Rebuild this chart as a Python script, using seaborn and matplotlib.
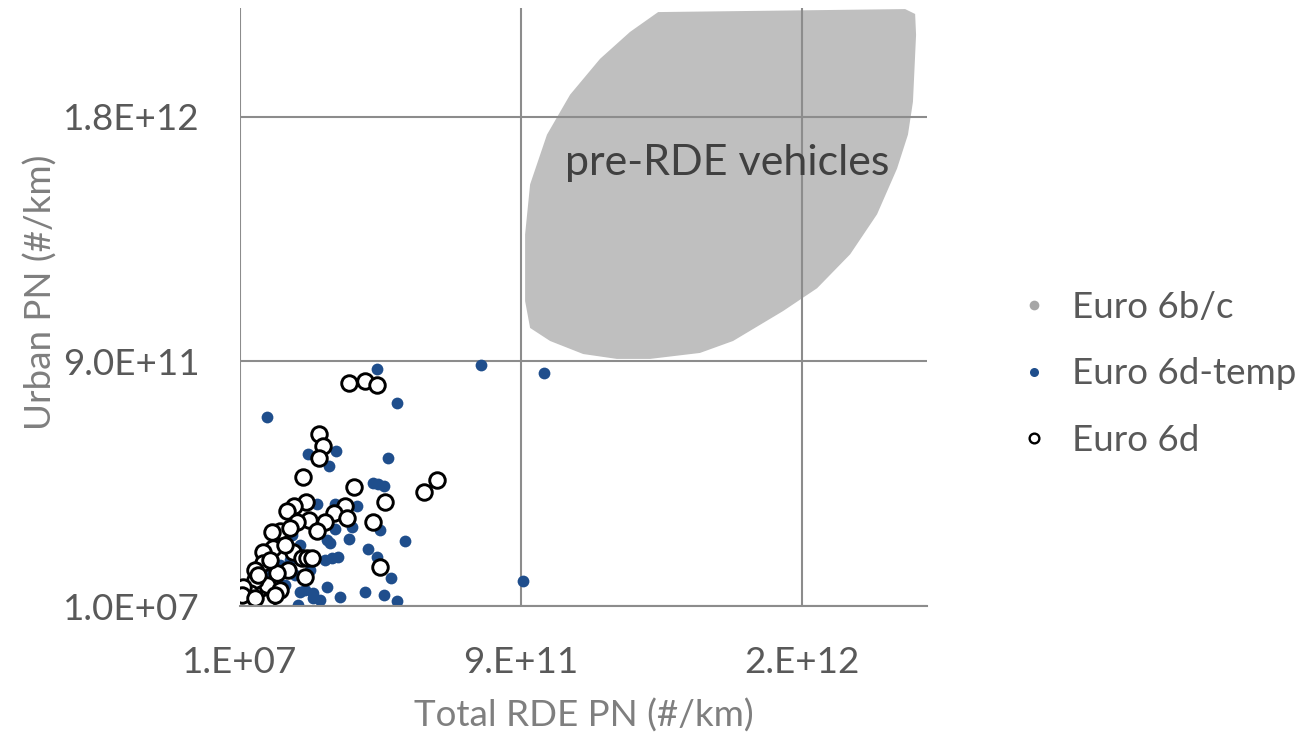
import numpy as np
import pandas as pd
import matplotlib
matplotlib.use("Agg")
import matplotlib.pyplot as plt
from matplotlib.lines import Line2D
import seaborn as sns

# ---- data (particle number per km) ----
E11 = 1e11

# Euro 6d-temp vehicles
total_6dt = np.array([4.38, 7.71, 9.75, 0.86, 5.02, 2.19, 3.07, 2.84, 4.74, 4.27,
                      4.43, 4.61, 3.74, 2.48, 3.05, 5.28, 3.48, 4.09, 4.38, 4.48,
                      4.85, 9.07, 3.99, 4.61, 5.04, 3.20, 2.35, 2.35, 1.87, 2.78,
                      2.72, 2.94, 3.15, 3.58, 3.04, 2.78, 2.88, 1.92, 1.60, 2.24,
                      1.44, 1.92, 1.12, 0.64, 2.56, 2.08, 1.67, 0.96, 2.56, 1.20,
                      1.76, 2.08, 1.28, 0.32]) * E11
urban_6dt = np.array([8.71, 8.87, 8.57, 6.97, 7.45, 5.60, 5.69, 5.16, 5.43, 4.52,
                      4.47, 4.42, 3.68, 3.76, 3.76, 2.39, 2.45, 2.08, 1.81, 2.81,
                      1.03, 0.93, 0.50, 0.39, 0.19, 0.34, 0.47, 0.28, 0.04, 0.71,
                      1.69, 1.75, 1.81, 2.91, 2.85, 2.42, 2.30, 2.24, 1.69, 1.32,
                      0.77, 0.51, 0.29, 0.22, 2.97, 3.15, 2.60, 1.14, 0.22, 2.30,
                      1.14, 0.59, 1.50, 0.04]) * E11

# Euro 6d vehicles
total_6d = np.array([3.49, 4.00, 4.38, 2.52, 2.67, 2.52, 2.01, 3.66, 5.89, 6.32,
                     4.64, 3.36, 3.01, 3.44, 4.25, 2.11, 1.74, 1.50, 2.20, 2.71,
                     2.46, 1.82, 1.28, 1.02, 4.48, 1.07, 1.69, 0.75, 1.98, 2.14,
                     2.30, 1.55, 0.75, 2.08, 1.18, 0.86, 0.48, 0.32, 0.11, 0.16,
                     0.86, 1.28, 0.49, 0.06, 0.58, 0.96, 1.44, 1.60, 0.48, 1.12]) * E11
urban_6d = np.array([8.19, 8.29, 8.13, 6.33, 5.87, 5.44, 4.74, 4.37, 4.19, 4.64,
                     3.82, 3.68, 3.42, 3.25, 3.09, 3.82, 3.68, 3.49, 3.18, 3.09,
                     2.76, 3.09, 2.76, 2.72, 1.44, 2.12, 1.99, 1.99, 1.75, 1.75,
                     1.75, 1.32, 1.57, 1.07, 1.20, 0.77, 0.95, 0.47, 0.71, 0.16,
                     0.16, 0.59, 1.32, 0.40, 1.14, 1.69, 2.24, 2.86, 0.29, 0.40]) * E11

# outline of the Euro 6b/c (pre-RDE) region
region_total = np.array([13.39, 21.30, 21.62, 21.65, 21.55, 21.39, 21.04, 20.40,
                         19.54, 18.48, 17.39, 15.79, 14.73, 13.13, 12.07, 10.99,
                         9.93, 9.29, 9.13, 9.13, 9.29, 9.83, 10.57, 11.53, 12.49]) * E11
region_urban = np.array([21.85, 21.96, 21.78, 21.01, 18.55, 17.34, 16.09, 14.41,
                         12.94, 11.69, 10.85, 9.75, 9.31, 9.09, 9.09, 9.27,
                         9.75, 10.23, 11.22, 13.67, 15.51, 17.34, 18.81, 20.13, 21.12]) * E11

series_names = ["Euro 6b/c", "Euro 6d-temp", "Euro 6d"]
axis_min = 1e7
axis_max = 2.2e12
tick_step = 9e11
x_tick_labels = ["1.E+07", "9.E+11", "2.E+12"]
y_tick_labels = ["1.0E+07", "9.0E+11", "1.8E+12"]

# ---- style ----
sns.set_theme(style="white")
plt.rcParams["font.family"] = ["Lato", "DejaVu Sans"]

grid_col = "#8c8c8c"
tick_col = "#595959"
label_col = "#7f7f7f"
blue = "#1f4e8c"
region_col = "#bfbfbf"
fs = 26.5

fig = plt.figure(figsize=(13.12, 7.44), dpi=100)
ax = fig.add_axes([240 / 1312, 1 - 606 / 744, 687 / 1312, 598 / 744])

df_dt = pd.DataFrame({"total": total_6dt, "urban": urban_6dt})
df_d = pd.DataFrame({"total": total_6d, "urban": urban_6d})

ax.fill(region_total, region_urban, color=region_col, lw=0, zorder=0.2)
ax.text(15.6e11, 16.3e11, "pre-RDE vehicles", fontsize=31, color="#404040",
        ha="center", va="center", zorder=3)

sns.scatterplot(data=df_dt, x="total", y="urban", ax=ax, color=blue, s=72,
                linewidth=0, zorder=2, legend=False)
sns.scatterplot(data=df_d, x="total", y="urban", ax=ax, facecolor="white",
                edgecolor="black", s=125, linewidth=2.1, zorder=2.5, legend=False)

ax.set_xlim(axis_min, axis_max)
ax.set_ylim(axis_min, axis_max)
ticks = [axis_min + i * tick_step for i in range(3)]
ax.set_xticks(ticks, x_tick_labels)
ax.set_yticks(ticks, y_tick_labels)
ax.tick_params(axis="both", length=0, labelsize=fs, labelcolor=tick_col, pad=29)

ax.grid(True, color=grid_col, linewidth=1.5)
ax.set_axisbelow(True)
for side in ["top", "right", "left"]:
    ax.spines[side].set_visible(False)
ax.spines["bottom"].set_color(grid_col)
ax.spines["bottom"].set_linewidth(1.5)

ax.set_xlabel("Total RDE PN (#/km)", fontsize=fs, color=label_col)
ax.set_ylabel("Urban PN (#/km)", fontsize=fs, color=label_col)
ax.xaxis.set_label_coords(0.5, -0.155)
ax.yaxis.set_label_coords(-0.265, 0.525)

handles = [
    Line2D([], [], ls="", marker="o", markersize=7, markerfacecolor="#a6a6a6",
           markeredgewidth=0),
    Line2D([], [], ls="", marker="o", markersize=6.5, markerfacecolor=blue,
           markeredgewidth=0),
    Line2D([], [], ls="", marker="o", markersize=7, markerfacecolor="white",
           markeredgecolor="black", markeredgewidth=1.7),
]
fig.legend(handles, series_names, loc="center left",
           bbox_to_anchor=(982 / 1312, 1 - 374 / 744),
           frameon=False, fontsize=fs, labelcolor=tick_col, handletextpad=0.55,
           labelspacing=0.9, handlelength=1.0)

fig.savefig("out.png", dpi=100)
